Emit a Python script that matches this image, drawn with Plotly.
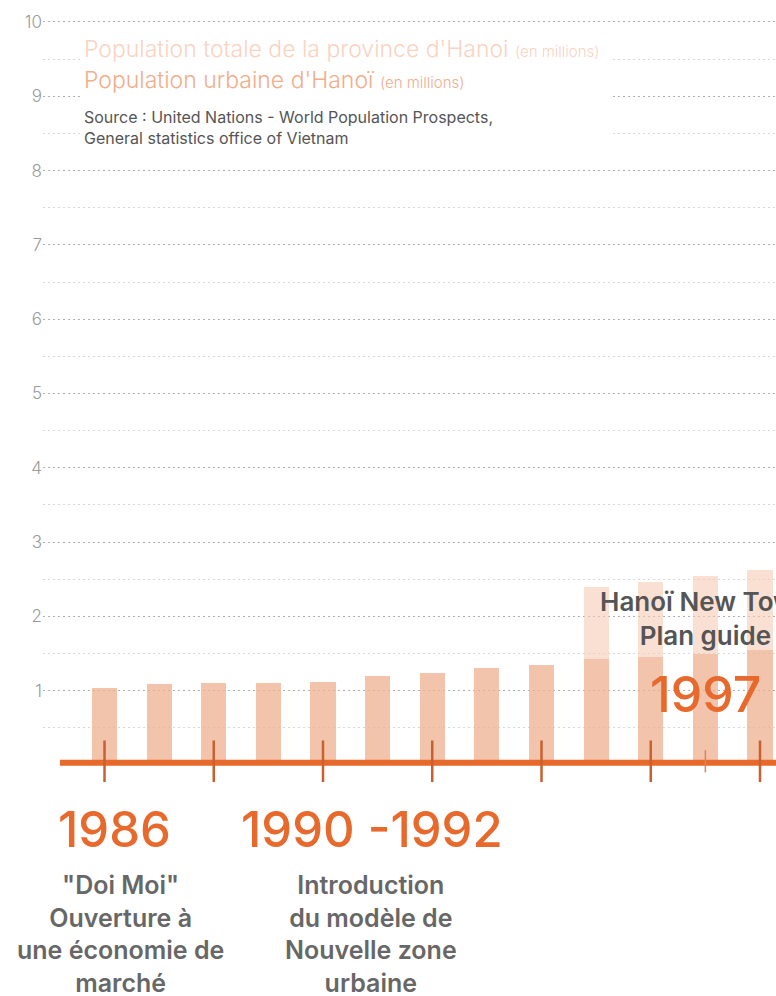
import plotly.graph_objects as go

# ---- data ----
years = list(range(1986, 1999))
urban = [1.04, 1.09, 1.11, 1.11, 1.12, 1.20, 1.24, 1.30, 1.34, 1.42, 1.46, 1.50, 1.55]
total = [None, None, None, None, None, None, None, None, None, 2.39, 2.46, 2.54, 2.63]
y_ticks = [1, 2, 3, 4, 5, 6, 7, 8, 9, 10]
y_minor = [0.5, 1.5, 2.5, 3.5, 4.5, 5.5, 6.5, 7.5, 8.5, 9.5]
axis_ticks = [1986, 1988, 1990, 1992, 1994, 1996, 1998]
small_ticks = [1997]

FONT = "Inter"
ORANGE = "#E8692C"
GREY_TXT = "#676767"

excess = [(t - u) if t is not None else None for t, u in zip(total, urban)]

fig = go.Figure()
fig.add_trace(go.Bar(
    x=years, y=urban, width=0.46,
    marker=dict(color="rgba(238,176,144,0.75)", line=dict(width=0)),
    hoverinfo="skip", showlegend=False,
))
fig.add_trace(go.Bar(
    x=years, y=excess, base=urban, width=0.46,
    marker=dict(color="rgba(245,203,182,0.6)", line=dict(width=0)),
    hoverinfo="skip", showlegend=False,
))

shapes = []
# legend white box covering gridlines
shapes.append(dict(type="rect", xref="paper", yref="paper",
                   x0=(80 - 43) / 733, x1=(611 - 43) / 733,
                   y0=(996 - 150) / 996, y1=(996 - 34) / 996,
                   fillcolor="white", line=dict(width=0), layer="above"))
# orange baseline
shapes.append(dict(type="line", xref="x", yref="y", x0=1985.185, x1=1999.5, y0=0.03, y1=0.03,
                   line=dict(color=ORANGE, width=6), layer="above"))
for t in axis_ticks:
    shapes.append(dict(type="line", xref="x", yref="y", x0=t, x1=t, y0=-0.23, y1=0.33,
                       line=dict(color="#C9602E", width=2.5), layer="above"))
for t in small_ticks:
    shapes.append(dict(type="line", xref="x", yref="y", x0=t, x1=t, y0=-0.1, y1=0.2,
                       line=dict(color="#D9845A", width=1.5), layer="above"))

annotations = []
# legend texts
annotations.append(dict(xref="paper", yref="paper", x=(82 - 43) / 733, y=(996 - 49) / 996,
                        xanchor="left", yanchor="middle", showarrow=False,
                        text="Population totale de la province d'Hanoi <span style='font-size:15px'>(en millions)</span>",
                        font=dict(family=FONT, size=23, color="#F9D3C2", weight=300)))
annotations.append(dict(xref="paper", yref="paper", x=(82 - 43) / 733, y=(996 - 80) / 996,
                        xanchor="left", yanchor="middle", showarrow=False,
                        text="Population urbaine d'Hanoï <span style='font-size:15px'>(en millions)</span>",
                        font=dict(family=FONT, size=23, color="#F0AE8C", weight=300)))
annotations.append(dict(xref="paper", yref="paper", x=(82 - 43) / 733, y=(996 - 127) / 996,
                        xanchor="left", yanchor="middle", showarrow=False, align="left",
                        text="Source : United Nations - World Population Prospects,<br>General statistics office of Vietnam",
                        font=dict(family=FONT, size=16, color="#555555")))
# event labels
annotations.append(dict(x=1986.19, y=-0.87, xref="x", yref="y", showarrow=False,
                        text="1986", font=dict(family=FONT, size=49, color=ORANGE, weight=500)))
annotations.append(dict(x=1990.906, y=-0.87, xref="x", yref="y", showarrow=False,
                        text="1990 -1992", font=dict(family=FONT, size=49, color=ORANGE, weight=500)))
annotations.append(dict(x=1986.30, y=-2.27, xref="x", yref="y", showarrow=False,
                        text="\"Doi Moi\"<br>Ouverture à<br>une économie de<br>marché",
                        font=dict(family=FONT, size=25, color=GREY_TXT, weight=600)))
annotations.append(dict(x=1990.87, y=-2.27, xref="x", yref="y", showarrow=False,
                        text="Introduction<br>du modèle de<br>Nouvelle zone<br>urbaine",
                        font=dict(family=FONT, size=25, color=GREY_TXT, weight=600)))
annotations.append(dict(x=1997, y=0.95, xref="x", yref="y", showarrow=False,
                        text="1997", font=dict(family=FONT, size=50, color=ORANGE, weight=500)))
annotations.append(dict(x=1997, y=1.97, xref="x", yref="y", showarrow=False,
                        text="Hanoï New Town<br>Plan guide",
                        font=dict(family=FONT, size=26, color="#555555", weight=600)))

fig.update_layout(
    width=776, height=996, autosize=False,
    margin=dict(l=43, r=0, t=0, b=0),
    paper_bgcolor="white", plot_bgcolor="white",
    barmode="overlay", bargap=0,
    shapes=shapes, annotations=annotations,
    showlegend=False,
)
fig.update_xaxes(range=[1984.874, 1998.293], showgrid=False, zeroline=False,
                 showticklabels=False, showline=False, ticks="")
fig.update_yaxes(range=[-3.109, 10.296], tickmode="array", tickvals=y_ticks,
                 ticktext=[str(v) for v in y_ticks],
                 showgrid=True, gridcolor="#B0B0B0", griddash="2px,3px", gridwidth=1.4,
                 zeroline=False, showline=False, ticks="",
                 tickfont=dict(family=FONT, size=17, color="#9A9A9A", weight=300),
                 minor=dict(tickmode="array", tickvals=y_minor, showgrid=True,
                            gridcolor="#D8D8D8", griddash="2px,3px", gridwidth=1.2))

fig.write_html("out.html")
